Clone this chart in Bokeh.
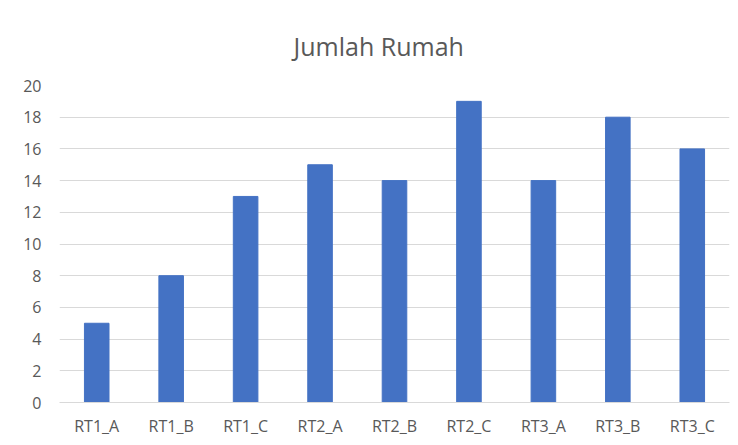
from bokeh.plotting import figure
from bokeh.models import Range1d, FixedTicker
from bokeh.embed import file_html
from bokeh.resources import INLINE

categories = ["RT1_A", "RT1_B", "RT1_C", "RT2_A", "RT2_B", "RT2_C", "RT3_A", "RT3_B", "RT3_C"]
values = [5, 8, 13, 15, 14, 19, 14, 18, 16]
y_ticks = [0, 2, 4, 6, 8, 10, 12, 14, 16, 18, 20]

p = figure(x_range=categories, width=736, height=443, output_backend="svg",
           toolbar_location=None, min_border_left=59, min_border_right=7,
           min_border_top=85, min_border_bottom=41,
           title="Jumlah Rumah")
p.y_range = Range1d(0, 20)
p.vbar(x=categories, top=values, width=0.33, color="#4472C4")

p.title.align = "left"
p.title.offset = 234
p.title.text_font = "Open Sans"
p.title.text_font_style = "normal"
p.title.text_font_size = "25px"
p.title.text_color = "#595959"
p.title.standoff = 46

p.outline_line_color = None
p.xgrid.grid_line_color = None
p.ygrid.grid_line_color = "#D9D9D9"
p.ygrid.grid_line_width = 1
p.yaxis.ticker = FixedTicker(ticks=y_ticks)
p.yaxis.axis_line_color = None
p.yaxis.major_tick_line_color = None
p.yaxis.minor_tick_line_color = None
p.yaxis.major_label_standoff = 12
p.xaxis.axis_line_color = "#D9D9D9"
p.xaxis.major_tick_line_color = None
p.xaxis.minor_tick_line_color = None
p.xaxis.major_label_standoff = 6
for ax in (p.xaxis, p.yaxis):
    ax.major_label_text_font = "Open Sans"
    ax.major_label_text_font_size = "16px"
    ax.major_label_text_color = "#595959"

open("out.html", "w").write(file_html(p, INLINE))
